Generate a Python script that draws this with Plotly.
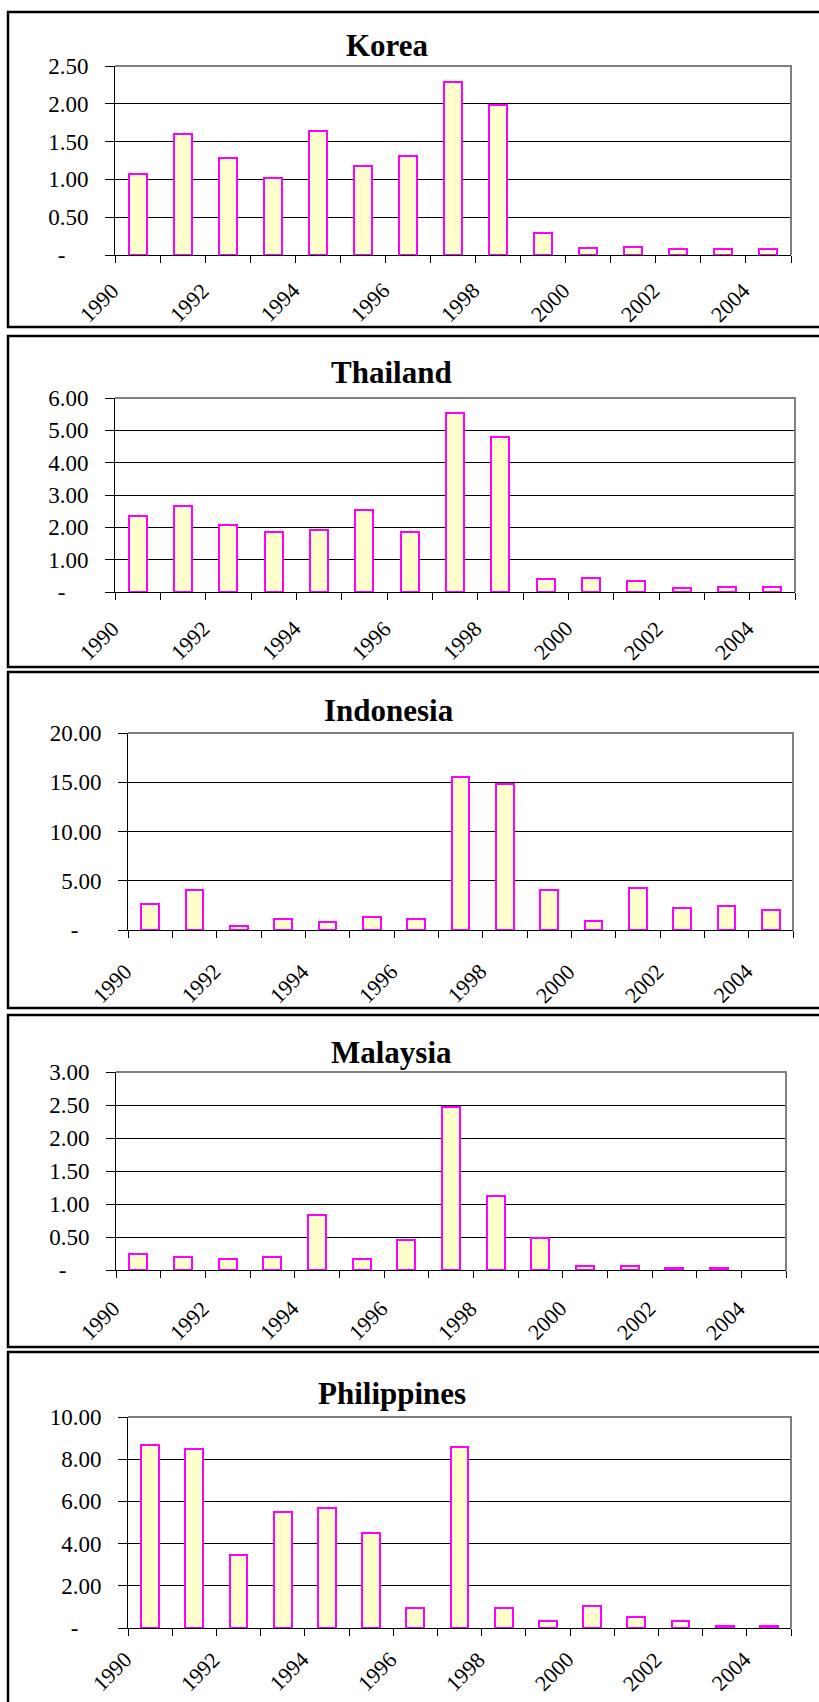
import plotly.graph_objects as go

# Figure size in pixels
W, H = 819, 1702

# ---- data -------------------------------------------------------------
years = list(range(1990, 2005))
label_years = [y for y in years if y % 2 == 0]

countries = ["Korea", "Thailand", "Indonesia", "Malaysia", "Philippines"]

korea = [1.07, 1.60, 1.285, 1.02, 1.64, 1.18, 1.31, 2.29, 1.99, 0.29,
         0.097, 0.11, 0.075, 0.075, 0.075]
thailand = [2.35, 2.67, 2.08, 1.87, 1.92, 2.55, 1.87, 5.54, 4.78, 0.39,
            0.44, 0.33, 0.12, 0.16, 0.16]
indonesia = [2.60, 4.05, 0.37, 1.15, 0.78, 1.28, 1.15, 15.54, 14.86, 4.05,
             0.95, 4.29, 2.26, 2.47, 2.06]
malaysia = [0.24, 0.19, 0.17, 0.19, 0.83, 0.17, 0.46, 2.47, 1.12, 0.48,
            0.06, 0.06, 0.035, 0.035, None]
philippines = [8.67, 8.50, 3.44, 5.50, 5.67, 4.52, 0.96, 8.58, 0.96, 0.33,
               1.06, 0.52, 0.33, 0.09, 0.09]

korea_ticks = [0, 0.5, 1.0, 1.5, 2.0, 2.5]
thailand_ticks = [0, 1, 2, 3, 4, 5, 6]
indonesia_ticks = [0, 5, 10, 15, 20]
malaysia_ticks = [0, 0.5, 1.0, 1.5, 2.0, 2.5, 3.0]
philippines_ticks = [0, 2, 4, 6, 8, 10]

series = [korea, thailand, indonesia, malaysia, philippines]
tick_sets = [korea_ticks, thailand_ticks, indonesia_ticks, malaysia_ticks,
             philippines_ticks]

# ---- panel geometry (pixels from top-left) -----------------------------
# outer frame: (left, top, right, bottom)
frames = [(8, 12, 1000, 327), (8, 336, 1000, 667), (8, 672, 1000, 1008),
          (8, 1015, 1000, 1347), (8, 1352, 1000, 1800)]
# plotting area: (left, top, right, bottom)
plots = [(115, 66, 791, 255), (115, 398, 795, 592), (128, 733, 793, 930),
         (116, 1072, 786, 1270), (128, 1417, 791, 1628)]
# title centres
titles_at = [(387, 45), (391, 373), (389, 710), (391, 1052), (392, 1393)]
# gap between the category axis and the top of the slanted year labels
year_label_gap = [20, 21, 26, 23, 16]

FONT = "Liberation Serif"
FILL = "#FFFFCC"
EDGE = "#FF00FF"


def px_x(x):
    return x / W


def px_y(y):
    return 1 - y / H


def tick_text(v):
    if v == 0:
        return "-\u2007\u2007"
    return f"{v:.2f}"


fig = go.Figure()
shapes = []
annotations = []
layout = {}

for i, (name, vals, ticks) in enumerate(zip(countries, series, tick_sets)):
    n = i + 1
    xs = "x" if n == 1 else f"x{n}"
    ys = "y" if n == 1 else f"y{n}"
    xkey = "xaxis" if n == 1 else f"xaxis{n}"
    ykey = "yaxis" if n == 1 else f"yaxis{n}"
    pl, pt, pr, pb = plots[i]

    fig.add_trace(go.Bar(
        x=years, y=vals, width=0.4, xaxis=xs, yaxis=ys,
        marker=dict(color=FILL, line=dict(color=EDGE, width=2)),
        showlegend=False, hoverinfo="x+y",
    ))

    layout[xkey] = dict(
        domain=[px_x(pl), px_x(pr)], anchor=ys, type="linear",
        range=[years[0] - 0.5, years[-1] + 0.5],
        showticklabels=False, ticks="",
        showline=True, linecolor="black", linewidth=1,
        showgrid=False, zeroline=False, fixedrange=True, automargin=False,
        minor=dict(tickmode="array",
                   tickvals=[years[0] - 0.5 + k for k in range(len(years) + 1)],
                   ticks="outside", ticklen=7, tickwidth=1,
                   tickcolor="black", showgrid=False),
    )
    layout[ykey] = dict(
        domain=[px_y(pb), px_y(pt)], anchor=xs,
        range=[0, ticks[-1]],
        tickmode="array", tickvals=ticks,
        ticktext=[tick_text(v) for v in ticks],
        ticks="outside", ticklen=9, tickwidth=1, tickcolor="black",
        ticklabelstandoff=12,
        tickfont=dict(family=FONT, size=23, color="black"),
        showline=True, linecolor="black", linewidth=1,
        showgrid=True, gridcolor="black", gridwidth=1,
        zeroline=False, fixedrange=True, automargin=False,
    )

    # slanted year labels under the category axis
    for yr in label_years:
        annotations.append(dict(
            text=str(yr), x=yr, xref=xs, xshift=-11,
            y=px_y(pb + year_label_gap[i]), yref="paper",
            xanchor="right", yanchor="top", textangle=-45,
            showarrow=False, font=dict(family=FONT, size=22, color="black"),
        ))

    # grey border on the top and right of the plotting area
    shapes.append(dict(
        type="path", xref=f"{xs} domain", yref=f"{ys} domain",
        path="M 0 1 L 1 1 L 1 0", line=dict(color="#808080", width=2),
        layer="above",
    ))

    # outer frame of the panel
    fl, ft, fr, fb = frames[i]
    shapes.append(dict(
        type="rect", xref="paper", yref="paper",
        x0=px_x(fl), x1=px_x(fr), y0=px_y(fb), y1=px_y(ft),
        line=dict(color="black", width=2.5), fillcolor="rgba(0,0,0,0)",
    ))

    tx, ty = titles_at[i]
    annotations.append(dict(
        text=f"<b>{name}</b>", x=px_x(tx), y=px_y(ty),
        xref="paper", yref="paper", xanchor="center", yanchor="middle",
        showarrow=False, font=dict(family=FONT, size=31, color="black"),
    ))

fig.update_layout(
    template="none",
    width=W, height=H,
    margin=dict(l=0, r=0, t=0, b=0, autoexpand=False),
    paper_bgcolor="white", plot_bgcolor="white",
    font=dict(family=FONT, color="black"),
    shapes=shapes, annotations=annotations,
    bargap=0, **layout,
)

fig.write_html(
    "out.html",
    post_script="document.body.style.margin='0';"
                "document.body.style.overflow='hidden';",
)
